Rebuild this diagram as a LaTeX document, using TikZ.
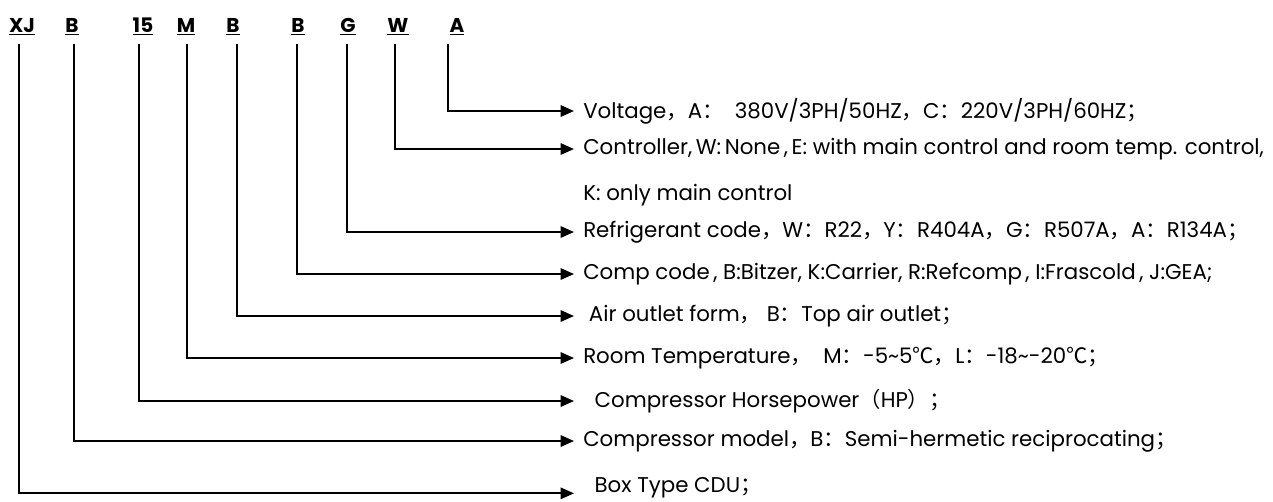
\documentclass[tikz,border=0pt]{standalone}
\usepackage{fontspec}
\setmainfont{Poppins}
\newfontfamily\cjk{Noto Sans CJK SC}
\usetikzlibrary{arrows.meta}
\newcommand{\fw}[1]{{\cjk #1}}
\tikzset{
  code/.style={font=\fontsize{15}{18}\selectfont\bfseries,inner sep=0pt,anchor=base},
  desc/.style={font=\fontsize{16}{19}\selectfont,anchor=west,inner xsep=6.75pt,inner ysep=0pt},
  arrow/.style={-{Triangle[length=10pt,width=8.5pt]},line width=1.4pt,shorten <=7pt}
}

\begin{document}
\begin{tikzpicture}[x=0.75pt,y=-0.75pt]
  \useasboundingbox (0,0) rectangle (1273,501);
  % model code letters
  \node[code] (xj)  at (22,32)  {\underline{XJ}};
  \node[code] (cm)  at (72,32)  {\underline{B}};
  \node[code] (hp)  at (143,32) {\underline{15}};
  \node[code] (rt)  at (186,32) {\underline{M}};
  \node[code] (ao)  at (233,32) {\underline{B}};
  \node[code] (cc)  at (298,32) {\underline{B}};
  \node[code] (rf)  at (348,32) {\underline{G}};
  \node[code] (ct)  at (398,32) {\underline{W}};
  \node[code] (vo)  at (457,32) {\underline{A}};

  % descriptions
  \node[desc] (volt)  at (574,111) {Voltage\fw{，}A\fw{：}\ \ 380V/3PH/50HZ\fw{，}C\fw{：}220V/3PH/60HZ\fw{；}};
  \node[desc] (ctrl)  at (574,149) {Controller,\,W:\,None\,,\,E: with main control and room temp. control,};
  \node[desc] (ctrlb) at (574,195) {K: only main control};
  \node[desc] (refr)  at (574,232) {Refrigerant code\fw{，}W\fw{：}R22\fw{，}Y\fw{：}R404A\fw{，}G\fw{：}R507A\fw{，}A\fw{：}R134A\fw{；}};
  \node[desc] (comp)  at (574,274) {Comp code\,, B:Bitzer, K:Carrier, R:Refcomp\,, I:Frascold\,, J:GEA;};
  \node[desc] (air)   at (574,316) {\ Air outlet form\fw{，}\ B\fw{：}Top air outlet\fw{；}};
  \node[desc] (room)  at (574,358) {Room Temperature\fw{，}\ \ M\fw{：}-5\textasciitilde5\fw{℃}\fw{，}L\fw{：}-18\textasciitilde-20\fw{℃；}};
  \node[desc] (horse) at (574,401) {\ \ Compressor Horsepower\fw{（}HP\fw{）；}};
  \node[desc] (model) at (574,441) {Compressor model\fw{，}B\fw{：}Semi-hermetic reciprocating\fw{；}};
  \node[desc] (box)   at (574,488) {\ \ Box Type CDU\fw{；}};

  \draw[arrow] ([xshift=-6.75pt]vo.south) |- (volt.west);
  \draw[arrow] ([xshift=-2.25pt]ct.south) |- (ctrl.west);
  \draw[arrow] ([xshift=-0.75pt]rf.south) |- (refr.west);
  \draw[arrow] ([xshift=-0.75pt]cc.south) |- (comp.west);
  \draw[arrow] ([xshift=3pt]ao.south)     |- (air.west);
  \draw[arrow] ([xshift=0.75pt]rt.south)  |- (room.west);
  \draw[arrow] ([xshift=-3pt]hp.south)    |- (horse.west);
  \draw[arrow] ([xshift=1.5pt]cm.south)   |- (model.west);
  \draw[arrow] ([xshift=-2.25pt]xj.south) |- ([yshift=-4pt]box.west);
\end{tikzpicture}
\end{document}
